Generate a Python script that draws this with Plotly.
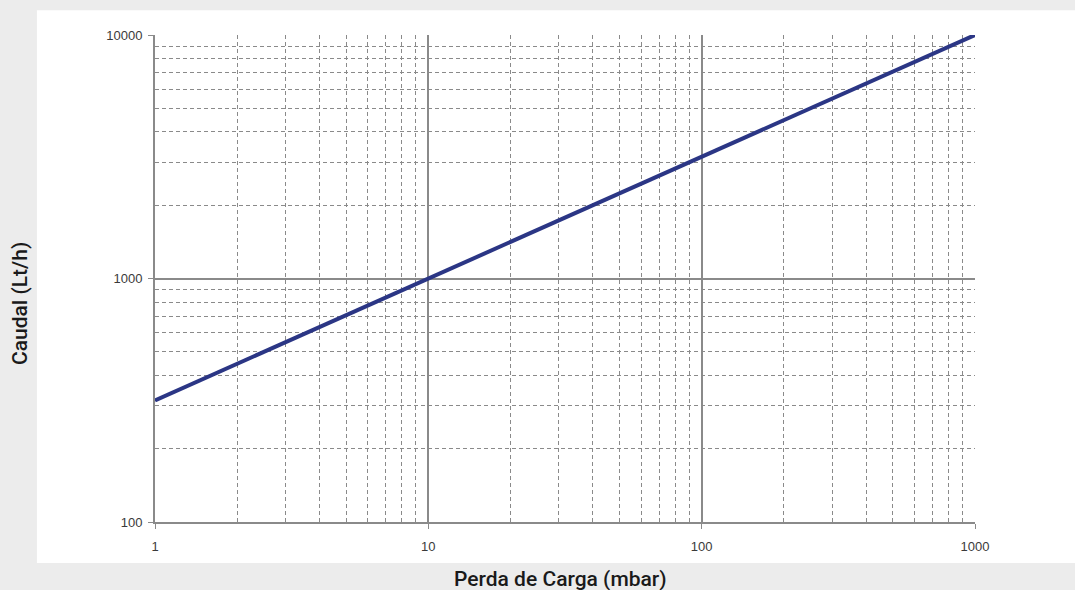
import plotly.graph_objects as go

# Data
perda = [1, 10, 100, 1000]          # mbar
caudal = [316, 1000, 3162, 10000]   # Lt/h
x_ticks = [1, 10, 100, 1000]
x_labels = ["1", "10", "100", "1000"]
y_ticks = [100, 1000, 10000]
y_labels = ["100", "1000", "10000"]
x_minor = [m * d for d in [1, 10, 100] for m in range(2, 10)]
y_minor = [m * d for d in [100, 1000] for m in range(2, 10)]

fig = go.Figure()
fig.add_trace(go.Scatter(x=perda, y=caudal, mode="lines",
                         line=dict(color="#2b3685", width=4),
                         showlegend=False, hoverinfo="skip"))

axis_common = dict(
    type="log",
    showline=True, linecolor="#8a8a8a", linewidth=2,
    showgrid=True, gridcolor="#8a8a8a", gridwidth=1.5,
    ticks="outside", ticklen=5, tickcolor="#8a8a8a",
    tickfont=dict(family="Liberation Sans, Arial", size=13, color="#3a3a3a"),
    zeroline=False, mirror=False,
)

fig.update_xaxes(**axis_common, range=[0, 3],
                 tickvals=x_ticks, ticktext=x_labels, ticklabelstandoff=6,
                 minor=dict(tickvals=x_minor, showgrid=True, gridcolor="#8a8a8a",
                            griddash="4px,3px", gridwidth=1.3, ticks=""))
fig.update_yaxes(**axis_common, range=[2, 4],
                 tickvals=y_ticks, ticktext=y_labels, ticklabelstandoff=3,
                 minor=dict(tickvals=y_minor, showgrid=True, gridcolor="#8a8a8a",
                            griddash="4px,3px", gridwidth=1.3, ticks="inside", ticklen=4,
                            tickcolor="#8a8a8a"))

fig.add_shape(type="rect", xref="paper", yref="paper",
              x0=-0.144, x1=1.13, y0=-0.084, y1=1.051,
              fillcolor="white", line=dict(width=0), layer="below")

title_font = dict(family="Roboto, Noto Sans, sans-serif", size=21, color="#1a1a1a", weight=500)
fig.add_annotation(text="Perda de Carga (mbar)", xref="paper", yref="paper",
                   x=(560 - 155) / 820, y=(522 - 579) / 487, showarrow=False, font=title_font,
                   xanchor="center", yanchor="middle")
fig.add_annotation(text="Caudal (Lt/h)", xref="paper", yref="paper",
                   x=(20 - 155) / 820, y=(522 - 304) / 487, showarrow=False, font=title_font,
                   textangle=-90, xanchor="center", yanchor="middle")

fig.update_layout(
    width=1075, height=590,
    margin=dict(l=155, r=100, t=35, b=68),
    paper_bgcolor="#ececec", plot_bgcolor="white",
)

fig.write_html("out.html", config={"displayModeBar": False},
               post_script="document.body.style.margin='0';document.body.style.background='#ececec';")
